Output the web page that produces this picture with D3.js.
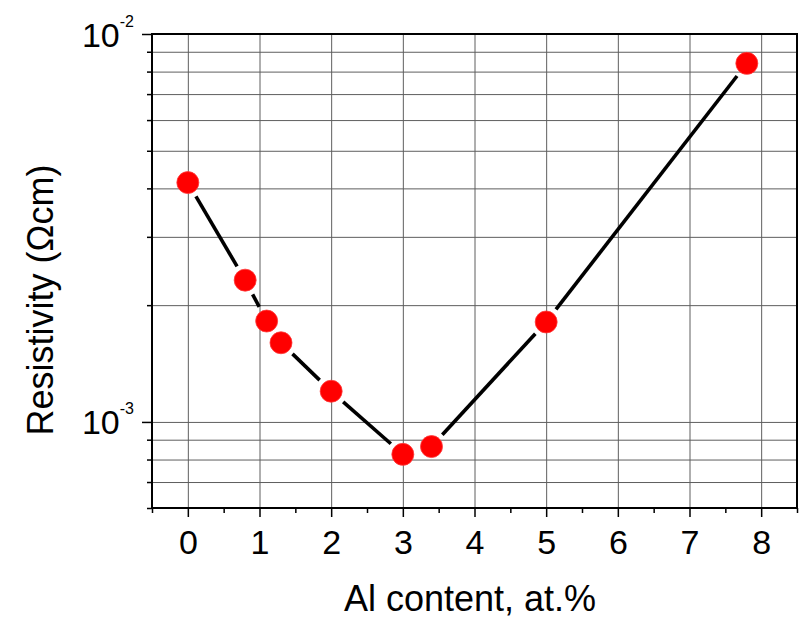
<!DOCTYPE html>
<html><head><meta charset="utf-8">
<script src="https://cdn.jsdelivr.net/npm/d3@7"></script>
<style>
body{margin:0;background:#fff}
svg{display:block}
text{font-family:"Liberation Sans",Arial,Helvetica,sans-serif;fill:#000}
</style>
</head><body>
<svg id="chart" width="802" height="620"></svg>
<script>
// ---- data ----
const alContent   = [0, 0.8, 1.1, 1.3, 2, 3, 3.4, 5, 7.8];
const resistivity = [4.14e-3, 2.32e-3, 1.82e-3, 1.60e-3, 1.20e-3, 8.25e-4, 8.64e-4, 1.81e-3, 8.40e-3];
const xTicks      = [0, 1, 2, 3, 4, 5, 6, 7, 8];
const xMinorTicks = [-0.5, 0.5, 1.5, 2.5, 3.5, 4.5, 5.5, 6.5, 7.5, 8.5];
const yMajorTicks = [1e-3, 1e-2];
const yMajorExp   = ["-3", "-2"];
const yMinorTicks = [6e-4, 7e-4, 8e-4, 9e-4, 2e-3, 3e-3, 4e-3, 5e-3, 6e-3, 7e-3, 8e-3, 9e-3];
const xDomain     = [-0.5, 8.5];
const yDomain     = [6e-4, 1e-2];
const xTitle      = "Al content, at.%";
const yTitle      = "Resistivity (\u03A9cm)";

// ---- layout ----
const L = 152, T = 34, R = 797, B = 508;
const svg = d3.select("#chart");
const x = d3.scaleLinear().domain(xDomain).range([L, R]);
const y = d3.scaleLog().domain(yDomain).range([B, T]);

// gridlines
const grid = svg.append("g");
grid.append("g").attr("transform", `translate(0,${B})`)
  .call(d3.axisBottom(x).tickValues(xTicks).tickSize(-(B - T)).tickFormat(""))
  .call(g => g.select(".domain").remove())
  .call(g => g.selectAll("line").attr("stroke", "#5e5e5e").attr("stroke-width", 1));
grid.append("g").attr("transform", `translate(${L},0)`)
  .call(d3.axisLeft(y).tickValues(yMinorTicks.concat(yMajorTicks)).tickSize(-(R - L)).tickFormat(""))
  .call(g => g.select(".domain").remove())
  .call(g => g.selectAll("line").attr("stroke", "#5e5e5e").attr("stroke-width", 1));

// x axis: major + minor ticks, labels
const xa = svg.append("g").attr("transform", `translate(0,${B})`);
xa.call(d3.axisBottom(x).tickValues(xTicks).tickSize(9).tickPadding(13).tickFormat(d3.format("d")))
  .call(g => g.select(".domain").remove())
  .call(g => g.selectAll("line").attr("stroke", "#000").attr("stroke-width", 1.5))
  .call(g => g.selectAll("text").attr("font-size", 34).attr("font-family", null).attr("fill", "#000"));
svg.append("g").attr("transform", `translate(0,${B})`)
  .call(d3.axisBottom(x).tickValues(xMinorTicks).tickSize(5).tickFormat(""))
  .call(g => g.select(".domain").remove())
  .call(g => g.selectAll("line").attr("stroke", "#000").attr("stroke-width", 1.5));

// y axis: major + minor ticks, labels
const ya = svg.append("g").attr("transform", `translate(${L},0)`);
ya.call(d3.axisLeft(y).tickValues(yMajorTicks).tickSize(10).tickFormat(""))
  .call(g => g.select(".domain").remove())
  .call(g => g.selectAll("line").attr("stroke", "#000").attr("stroke-width", 1.5));
svg.append("g").attr("transform", `translate(${L},0)`)
  .call(d3.axisLeft(y).tickValues(yMinorTicks).tickSize(5).tickFormat(""))
  .call(g => g.select(".domain").remove())
  .call(g => g.selectAll("line").attr("stroke", "#000").attr("stroke-width", 1.5));
ya.selectAll(".tick").each(function(d) {
  const t = d3.select(this).append("text")
    .attr("x", -18).attr("y", 0).attr("text-anchor", "end")
    .attr("font-size", 34).attr("font-family", null);
  t.append("tspan").attr("dy", 12).text("10");
  t.append("tspan").attr("dy", -20).attr("font-size", 16).text(yMajorExp[yMajorTicks.indexOf(d)]);
});

// frame
svg.append("rect").attr("x", L).attr("y", T).attr("width", R - L).attr("height", B - T)
  .attr("fill", "none").attr("stroke", "#000").attr("stroke-width", 2);

// line segments with gaps around markers
const pts = alContent.map((v, i) => [x(v), y(resistivity[i])]);
const gap = 16;
const segs = [];
for (let i = 0; i < pts.length - 1; i++) {
  const [x1, y1] = pts[i], [x2, y2] = pts[i + 1];
  const dx = x2 - x1, dy = y2 - y1, len = Math.hypot(dx, dy);
  if (len > 2 * gap) {
    const ux = dx / len, uy = dy / len;
    segs.push([x1 + ux * gap, y1 + uy * gap, x2 - ux * gap, y2 - uy * gap]);
  }
}
svg.append("g").selectAll("line").data(segs).join("line")
  .attr("x1", d => d[0]).attr("y1", d => d[1]).attr("x2", d => d[2]).attr("y2", d => d[3])
  .attr("stroke", "#000").attr("stroke-width", 3.6);

// markers
svg.append("g").selectAll("circle").data(alContent).join("circle")
  .attr("cx", d => x(d)).attr("cy", (d, i) => y(resistivity[i])).attr("r", 11)
  .attr("fill", "#f00").attr("stroke", "#ff3a3a").attr("stroke-width", 0.8);

// titles
svg.append("text").attr("x", 470).attr("y", 611).attr("text-anchor", "middle")
  .attr("font-size", 36).text(xTitle);
svg.append("text").attr("transform", "translate(53,300) rotate(-90)").attr("text-anchor", "middle")
  .attr("font-size", 36).text(yTitle);
</script>
</body></html>
